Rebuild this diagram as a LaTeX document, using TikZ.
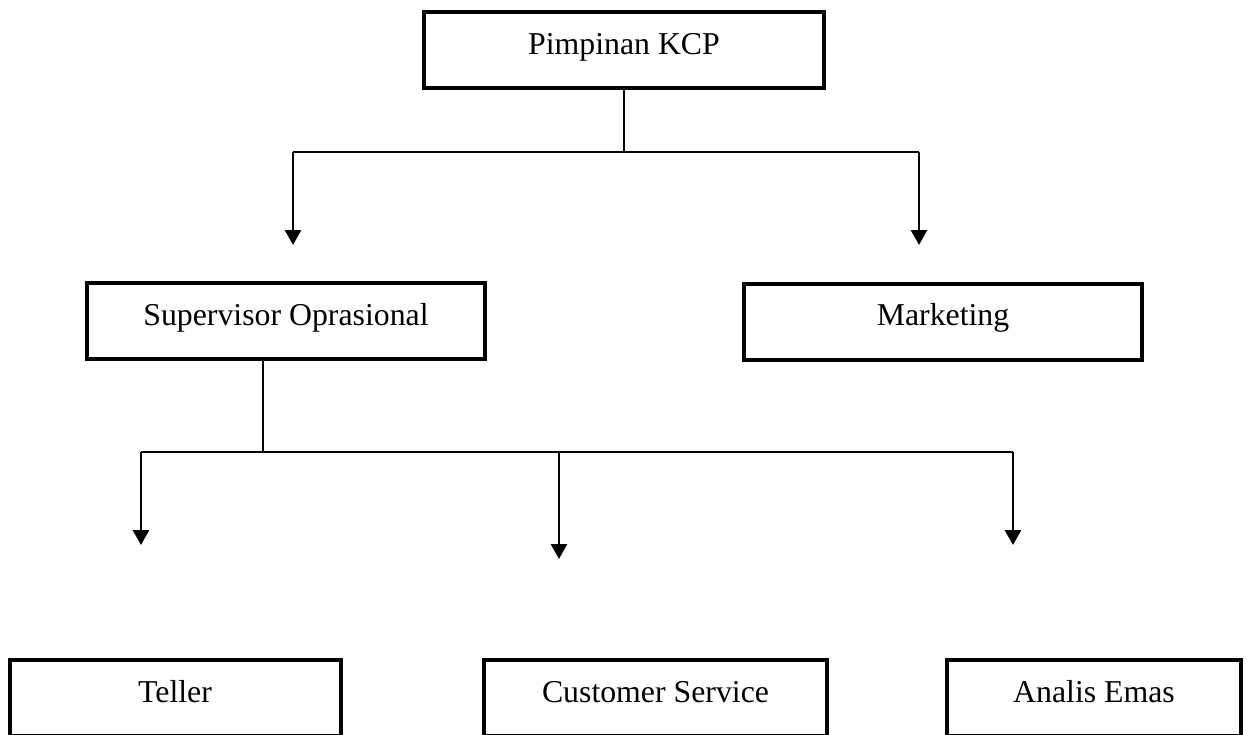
\documentclass[tikz,border=0pt]{standalone}
\usepackage{fontspec}
\setmainfont{Liberation Serif}
\usetikzlibrary{arrows.meta}
\tikzset{
  block/.style = {draw, line width=2pt, minimum height=38pt, text height=11pt, text depth=7pt, font=\fontsize{15.9}{19}\selectfont},
  link/.style = {line width=0.75pt},
  down/.style = {-{Triangle[width=8pt,length=7.5pt]}, line width=1.35pt}
}

\begin{document}
\begin{tikzpicture}[x=0.5pt, y=-0.5pt]
\useasboundingbox (0,0) rectangle (1247,734);
\clip (0,0) rectangle (1247,734);
\node[block, minimum width=200pt] (kcp) at (624,50) {Pimpinan KCP};
\node[block, minimum width=199pt] (spv) at (286,321) {Supervisor Oprasional};
\node[block, minimum width=199pt] (mkt) at (943,321.5) {Marketing};
\node[block, minimum width=165.5pt] (tel) at (175,698) {Teller};
\node[block, minimum width=171.5pt] (cs) at (655.5,698) {Customer Service};
\node[block, minimum width=147pt] (ana) at (1094,698) {Analis Emas};
% cabang dari pimpinan
\coordinate (j1) at (624,152);
\coordinate (a1) at (293,245);
\coordinate (a2) at (919,245);
\draw[link] (kcp.south) -- (j1);
\draw[link] (a1 |- j1) -- (a2 |- j1);
\draw[down] (a1 |- j1) -- (a1);
\draw[down] (a2 |- j1) -- (a2);
% cabang dari supervisor
\coordinate (j2) at (263,452);
\coordinate (b1) at (141,545);
\coordinate (b2) at (559,559);
\coordinate (b3) at (1013,545);
\draw[link] (j2 |- spv.south) -- (j2);
\draw[link] (b1 |- j2) -- (b3 |- j2);
\draw[down] (b1 |- j2) -- (b1);
\draw[down] (b2 |- j2) -- (b2);
\draw[down] (b3 |- j2) -- (b3);
\end{tikzpicture}
\end{document}
